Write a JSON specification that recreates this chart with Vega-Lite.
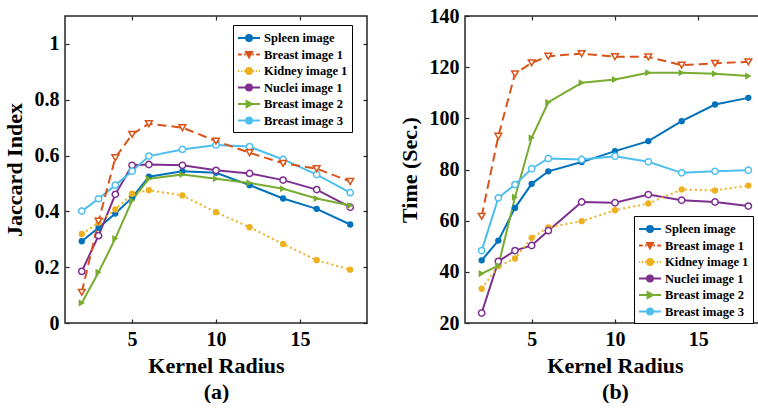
{
  "$schema": "https://vega.github.io/schema/vega-lite/v6.json",
  "padding": {"left": 2, "top": 5, "right": 0, "bottom": 0},
  "spacing": 28,
  "config": {
    "font": "Liberation Serif",
    "view": {"stroke": "#262626", "strokeWidth": 1.5},
    "axis": {
      "labelFont": "Liberation Serif", "labelFontWeight": "bold", "labelFontSize": 20, "labelColor": "#000",
      "titleFont": "Liberation Serif", "titleFontWeight": "bold", "titleFontSize": 22, "titleColor": "#000",
      "domain": false, "grid": false, "tickColor": "#262626", "tickWidth": 1.2, "tickSize": -4, "labelPadding": 10
    },
    "legend": {
      "labelFont": "Liberation Serif", "labelFontWeight": "bold", "labelFontSize": 12.5, "labelColor": "#000",
      "strokeColor": "#000", "fillColor": "white", "padding": 4, "rowPadding": 0.5, "symbolStrokeWidth": 2,
      "symbolSize": 256, "symbolOffset": 3, "labelOffset": 6
    }
  },
  "datasets": {
    "jaccard": [
      {"series": "Spleen image", "r": 2, "v": 0.293}, {"series": "Spleen image", "r": 3, "v": 0.341}, {"series": "Spleen image", "r": 4, "v": 0.392}, {"series": "Spleen image", "r": 5, "v": 0.449}, {"series": "Spleen image", "r": 6, "v": 0.524}, {"series": "Spleen image", "r": 8, "v": 0.544}, {"series": "Spleen image", "r": 10, "v": 0.538}, {"series": "Spleen image", "r": 12, "v": 0.494}, {"series": "Spleen image", "r": 14, "v": 0.446}, {"series": "Spleen image", "r": 16, "v": 0.409}, {"series": "Spleen image", "r": 18, "v": 0.353},
      {"series": "Breast image 1", "r": 2, "v": 0.11}, {"series": "Breast image 1", "r": 3, "v": 0.365}, {"series": "Breast image 1", "r": 4, "v": 0.592}, {"series": "Breast image 1", "r": 5, "v": 0.676}, {"series": "Breast image 1", "r": 6, "v": 0.714}, {"series": "Breast image 1", "r": 8, "v": 0.7}, {"series": "Breast image 1", "r": 10, "v": 0.652}, {"series": "Breast image 1", "r": 12, "v": 0.61}, {"series": "Breast image 1", "r": 14, "v": 0.572}, {"series": "Breast image 1", "r": 16, "v": 0.553}, {"series": "Breast image 1", "r": 18, "v": 0.507},
      {"series": "Kidney image 1", "r": 2, "v": 0.319}, {"series": "Kidney image 1", "r": 3, "v": 0.359}, {"series": "Kidney image 1", "r": 4, "v": 0.407}, {"series": "Kidney image 1", "r": 5, "v": 0.463}, {"series": "Kidney image 1", "r": 6, "v": 0.476}, {"series": "Kidney image 1", "r": 8, "v": 0.457}, {"series": "Kidney image 1", "r": 10, "v": 0.397}, {"series": "Kidney image 1", "r": 12, "v": 0.343}, {"series": "Kidney image 1", "r": 14, "v": 0.283}, {"series": "Kidney image 1", "r": 16, "v": 0.225}, {"series": "Kidney image 1", "r": 18, "v": 0.191},
      {"series": "Nuclei image 1", "r": 2, "v": 0.185}, {"series": "Nuclei image 1", "r": 3, "v": 0.313}, {"series": "Nuclei image 1", "r": 4, "v": 0.461}, {"series": "Nuclei image 1", "r": 5, "v": 0.565}, {"series": "Nuclei image 1", "r": 6, "v": 0.568}, {"series": "Nuclei image 1", "r": 8, "v": 0.565}, {"series": "Nuclei image 1", "r": 10, "v": 0.547}, {"series": "Nuclei image 1", "r": 12, "v": 0.536}, {"series": "Nuclei image 1", "r": 14, "v": 0.512}, {"series": "Nuclei image 1", "r": 16, "v": 0.478}, {"series": "Nuclei image 1", "r": 18, "v": 0.415},
      {"series": "Breast image 2", "r": 2, "v": 0.072}, {"series": "Breast image 2", "r": 3, "v": 0.182}, {"series": "Breast image 2", "r": 4, "v": 0.303}, {"series": "Breast image 2", "r": 5, "v": 0.439}, {"series": "Breast image 2", "r": 6, "v": 0.517}, {"series": "Breast image 2", "r": 8, "v": 0.532}, {"series": "Breast image 2", "r": 10, "v": 0.517}, {"series": "Breast image 2", "r": 12, "v": 0.502}, {"series": "Breast image 2", "r": 14, "v": 0.481}, {"series": "Breast image 2", "r": 16, "v": 0.446}, {"series": "Breast image 2", "r": 18, "v": 0.421},
      {"series": "Breast image 3", "r": 2, "v": 0.401}, {"series": "Breast image 3", "r": 3, "v": 0.445}, {"series": "Breast image 3", "r": 4, "v": 0.494}, {"series": "Breast image 3", "r": 5, "v": 0.544}, {"series": "Breast image 3", "r": 6, "v": 0.598}, {"series": "Breast image 3", "r": 8, "v": 0.622}, {"series": "Breast image 3", "r": 10, "v": 0.638}, {"series": "Breast image 3", "r": 12, "v": 0.632}, {"series": "Breast image 3", "r": 14, "v": 0.586}, {"series": "Breast image 3", "r": 16, "v": 0.532}, {"series": "Breast image 3", "r": 18, "v": 0.467}
    ],
    "time": [
      {"series": "Spleen image", "r": 2, "v": 44.5}, {"series": "Spleen image", "r": 3, "v": 52.2}, {"series": "Spleen image", "r": 4, "v": 65.0}, {"series": "Spleen image", "r": 5, "v": 74.4}, {"series": "Spleen image", "r": 6, "v": 79.3}, {"series": "Spleen image", "r": 8, "v": 82.9}, {"series": "Spleen image", "r": 10, "v": 87.2}, {"series": "Spleen image", "r": 12, "v": 91.1}, {"series": "Spleen image", "r": 14, "v": 98.9}, {"series": "Spleen image", "r": 16, "v": 105.4}, {"series": "Spleen image", "r": 18, "v": 108.0},
      {"series": "Breast image 1", "r": 2, "v": 61.7}, {"series": "Breast image 1", "r": 3, "v": 93.0}, {"series": "Breast image 1", "r": 4, "v": 117.4}, {"series": "Breast image 1", "r": 5, "v": 121.7}, {"series": "Breast image 1", "r": 6, "v": 124.3}, {"series": "Breast image 1", "r": 8, "v": 125.3}, {"series": "Breast image 1", "r": 10, "v": 124.1}, {"series": "Breast image 1", "r": 12, "v": 124.0}, {"series": "Breast image 1", "r": 14, "v": 120.8}, {"series": "Breast image 1", "r": 16, "v": 121.5}, {"series": "Breast image 1", "r": 18, "v": 122.1},
      {"series": "Kidney image 1", "r": 2, "v": 33.4}, {"series": "Kidney image 1", "r": 3, "v": 42.2}, {"series": "Kidney image 1", "r": 4, "v": 45.2}, {"series": "Kidney image 1", "r": 5, "v": 53.3}, {"series": "Kidney image 1", "r": 6, "v": 57.4}, {"series": "Kidney image 1", "r": 8, "v": 59.8}, {"series": "Kidney image 1", "r": 10, "v": 64.1}, {"series": "Kidney image 1", "r": 12, "v": 66.7}, {"series": "Kidney image 1", "r": 14, "v": 72.2}, {"series": "Kidney image 1", "r": 16, "v": 71.8}, {"series": "Kidney image 1", "r": 18, "v": 73.7},
      {"series": "Nuclei image 1", "r": 2, "v": 23.9}, {"series": "Nuclei image 1", "r": 3, "v": 44.1}, {"series": "Nuclei image 1", "r": 4, "v": 48.3}, {"series": "Nuclei image 1", "r": 5, "v": 50.3}, {"series": "Nuclei image 1", "r": 6, "v": 56.1}, {"series": "Nuclei image 1", "r": 8, "v": 67.3}, {"series": "Nuclei image 1", "r": 10, "v": 67.0}, {"series": "Nuclei image 1", "r": 12, "v": 70.2}, {"series": "Nuclei image 1", "r": 14, "v": 68.0}, {"series": "Nuclei image 1", "r": 16, "v": 67.3}, {"series": "Nuclei image 1", "r": 18, "v": 65.7},
      {"series": "Breast image 2", "r": 2, "v": 39.3}, {"series": "Breast image 2", "r": 3, "v": 42.4}, {"series": "Breast image 2", "r": 4, "v": 69.2}, {"series": "Breast image 2", "r": 5, "v": 92.4}, {"series": "Breast image 2", "r": 6, "v": 106.3}, {"series": "Breast image 2", "r": 8, "v": 113.9}, {"series": "Breast image 2", "r": 10, "v": 115.2}, {"series": "Breast image 2", "r": 12, "v": 117.8}, {"series": "Breast image 2", "r": 14, "v": 117.8}, {"series": "Breast image 2", "r": 16, "v": 117.4}, {"series": "Breast image 2", "r": 18, "v": 116.5},
      {"series": "Breast image 3", "r": 2, "v": 48.3}, {"series": "Breast image 3", "r": 3, "v": 68.9}, {"series": "Breast image 3", "r": 4, "v": 74.1}, {"series": "Breast image 3", "r": 5, "v": 80.3}, {"series": "Breast image 3", "r": 6, "v": 84.3}, {"series": "Breast image 3", "r": 8, "v": 83.9}, {"series": "Breast image 3", "r": 10, "v": 85.2}, {"series": "Breast image 3", "r": 12, "v": 83.0}, {"series": "Breast image 3", "r": 14, "v": 78.7}, {"series": "Breast image 3", "r": 16, "v": 79.3}, {"series": "Breast image 3", "r": 18, "v": 79.7}
    ]
  },
  "resolve": {"scale": {"color": "independent"}, "legend": {"color": "independent"}},
  "hconcat": [
    {
      "width": 302, "height": 307,
      "data": {"name": "jaccard"},
      "layer": [
        {
          "transform": [{"filter": {"field": "series", "oneOf": ["Spleen image", "Nuclei image 1", "Breast image 2", "Breast image 3"]}}],
          "mark": {"type": "line", "strokeWidth": 2},
          "encoding": {
            "x": {"field": "r", "type": "quantitative", "scale": {"domain": [1, 19], "nice": false}, "axis": {"values": [5, 10, 15], "title": ["Kernel Radius", "(a)"], "titleLineHeight": 26, "titlePadding": 6}},
            "y": {"field": "v", "type": "quantitative", "scale": {"domain": [0, 1.1], "nice": false}, "axis": {"values": [0, 0.2, 0.4, 0.6, 0.8, 1], "format": "~g", "title": "Jaccard Index", "titlePadding": 8}},
            "color": {"field": "series", "type": "nominal", "sort": null,
              "scale": {"domain": ["Spleen image", "Breast image 1", "Kidney image 1", "Nuclei image 1", "Breast image 2", "Breast image 3"], "range": ["#0072BD", "#D95319", "#EDB120", "#7E2F8E", "#77AC30", "#4DBEEE"]},
              "legend": {"title": null, "orient": "none", "legendX": 168, "legendY": 9,
                "encode": {"symbols": {"update": {
                  "shape": {"signal": "datum.value === 'Breast image 1' ? 'M-1.375,0H-0.9M-0.62,0H-0.41M0.41,0H0.62M0.9,0H1.375M-0.37,-0.3L0.37,-0.3L0,0.34Z' : datum.value === 'Kidney image 1' ? 'M-1.375,0H-1.21M-0.99,0H-0.83M-0.61,0H-0.45M0.45,0H0.61M0.83,0H0.99M1.21,0H1.375M-0.37,0A0.37,0.37 0 1,0 0.37,0A0.37,0.37 0 1,0 -0.37,0Z' : datum.value === 'Breast image 2' ? 'M-1.375,0H-0.3M0.37,0H1.375M-0.3,-0.37L0.37,0L-0.3,0.37Z' : 'M-1.375,0H-0.37M0.37,0H1.375M-0.37,0A0.37,0.37 0 1,0 0.37,0A0.37,0.37 0 1,0 -0.37,0Z'"},
                  "fill": {"signal": "datum.value === 'Spleen image' ? '#0072BD' : datum.value === 'Kidney image 1' ? '#EDB120' : datum.value === 'Breast image 2' ? '#77AC30' : 'white'"}
                }}}
              }
            }
          }
        },
        {
          "transform": [{"filter": {"field": "series", "equal": "Breast image 1"}}],
          "mark": {"type": "line", "strokeWidth": 2, "strokeDash": [9, 5]},
          "encoding": {
            "x": {"field": "r", "type": "quantitative", "axis": {"orient": "top", "values": [5, 10, 15], "labels": false, "title": null}},
            "y": {"field": "v", "type": "quantitative", "axis": {"orient": "right", "values": [0, 0.2, 0.4, 0.6, 0.8, 1], "labels": false, "title": null}},
            "color": {"field": "series", "type": "nominal", "legend": null}
          }
        },
        {
          "transform": [{"filter": {"field": "series", "equal": "Kidney image 1"}}],
          "mark": {"type": "line", "strokeWidth": 2, "strokeDash": [2, 3]},
          "encoding": {
            "x": {"field": "r", "type": "quantitative", "axis": null},
            "y": {"field": "v", "type": "quantitative", "axis": null},
            "color": {"field": "series", "type": "nominal", "legend": null}
          }
        },
        {
          "transform": [{"filter": {"field": "series", "oneOf": ["Spleen image", "Kidney image 1"]}}],
          "mark": {"type": "point", "shape": "circle", "filled": true, "size": 40, "opacity": 1},
          "encoding": {
            "x": {"field": "r", "type": "quantitative", "axis": null},
            "y": {"field": "v", "type": "quantitative", "axis": null},
            "color": {"field": "series", "type": "nominal", "legend": null}
          }
        },
        {
          "transform": [{"filter": {"field": "series", "oneOf": ["Nuclei image 1", "Breast image 3"]}}],
          "mark": {"type": "point", "shape": "circle", "filled": false, "fill": "white", "size": 40, "strokeWidth": 1.5, "opacity": 1},
          "encoding": {
            "x": {"field": "r", "type": "quantitative", "axis": null},
            "y": {"field": "v", "type": "quantitative", "axis": null},
            "color": {"field": "series", "type": "nominal", "legend": null}
          }
        },
        {
          "transform": [{"filter": {"field": "series", "equal": "Breast image 1"}}],
          "mark": {"type": "point", "shape": "triangle-down", "filled": false, "fill": "white", "size": 45, "strokeWidth": 1.5, "opacity": 1},
          "encoding": {
            "x": {"field": "r", "type": "quantitative", "axis": null},
            "y": {"field": "v", "type": "quantitative", "axis": null},
            "color": {"field": "series", "type": "nominal", "legend": null}
          }
        },
        {
          "transform": [{"filter": {"field": "series", "equal": "Breast image 2"}}],
          "mark": {"type": "point", "shape": "triangle-right", "filled": true, "size": 50, "opacity": 1},
          "encoding": {
            "x": {"field": "r", "type": "quantitative", "axis": null},
            "y": {"field": "v", "type": "quantitative", "axis": null},
            "color": {"field": "series", "type": "nominal", "legend": null}
          }
        }
      ],
      "resolve": {"axis": {"x": "independent", "y": "independent"}}
    },
    {
      "width": 300, "height": 307,
      "data": {"name": "time"},
      "layer": [
        {
          "transform": [{"filter": {"field": "series", "oneOf": ["Spleen image", "Nuclei image 1", "Breast image 2", "Breast image 3"]}}],
          "mark": {"type": "line", "strokeWidth": 2},
          "encoding": {
            "x": {"field": "r", "type": "quantitative", "scale": {"domain": [1, 19], "nice": false}, "axis": {"values": [5, 10, 15], "title": ["Kernel Radius", "(b)"], "titleLineHeight": 26, "titlePadding": 6}},
            "y": {"field": "v", "type": "quantitative", "scale": {"domain": [20, 140], "nice": false}, "axis": {"values": [20, 40, 60, 80, 100, 120, 140], "title": "Time (Sec.)", "titlePadding": 8}},
            "color": {"field": "series", "type": "nominal", "sort": null,
              "scale": {"domain": ["Spleen image", "Breast image 1", "Kidney image 1", "Nuclei image 1", "Breast image 2", "Breast image 3"], "range": ["#0072BD", "#D95319", "#EDB120", "#7E2F8E", "#77AC30", "#4DBEEE"]},
              "legend": {"title": null, "orient": "none", "legendX": 169, "legendY": 200,
                "encode": {"symbols": {"update": {
                  "shape": {"signal": "datum.value === 'Breast image 1' ? 'M-1.375,0H-0.9M-0.62,0H-0.41M0.41,0H0.62M0.9,0H1.375M-0.37,-0.3L0.37,-0.3L0,0.34Z' : datum.value === 'Kidney image 1' ? 'M-1.375,0H-1.21M-0.99,0H-0.83M-0.61,0H-0.45M0.45,0H0.61M0.83,0H0.99M1.21,0H1.375M-0.37,0A0.37,0.37 0 1,0 0.37,0A0.37,0.37 0 1,0 -0.37,0Z' : datum.value === 'Breast image 2' ? 'M-1.375,0H-0.3M0.37,0H1.375M-0.3,-0.37L0.37,0L-0.3,0.37Z' : 'M-1.375,0H-0.37M0.37,0H1.375M-0.37,0A0.37,0.37 0 1,0 0.37,0A0.37,0.37 0 1,0 -0.37,0Z'"},
                  "fill": {"signal": "datum.value === 'Spleen image' ? '#0072BD' : datum.value === 'Kidney image 1' ? '#EDB120' : datum.value === 'Breast image 2' ? '#77AC30' : 'white'"}
                }}}
              }
            }
          }
        },
        {
          "transform": [{"filter": {"field": "series", "equal": "Breast image 1"}}],
          "mark": {"type": "line", "strokeWidth": 2, "strokeDash": [9, 5]},
          "encoding": {
            "x": {"field": "r", "type": "quantitative", "axis": {"orient": "top", "values": [5, 10, 15], "labels": false, "title": null}},
            "y": {"field": "v", "type": "quantitative", "axis": {"orient": "right", "values": [20, 40, 60, 80, 100, 120, 140], "labels": false, "title": null}},
            "color": {"field": "series", "type": "nominal", "legend": null}
          }
        },
        {
          "transform": [{"filter": {"field": "series", "equal": "Kidney image 1"}}],
          "mark": {"type": "line", "strokeWidth": 2, "strokeDash": [2, 3]},
          "encoding": {
            "x": {"field": "r", "type": "quantitative", "axis": null},
            "y": {"field": "v", "type": "quantitative", "axis": null},
            "color": {"field": "series", "type": "nominal", "legend": null}
          }
        },
        {
          "transform": [{"filter": {"field": "series", "oneOf": ["Spleen image", "Kidney image 1"]}}],
          "mark": {"type": "point", "shape": "circle", "filled": true, "size": 40, "opacity": 1},
          "encoding": {
            "x": {"field": "r", "type": "quantitative", "axis": null},
            "y": {"field": "v", "type": "quantitative", "axis": null},
            "color": {"field": "series", "type": "nominal", "legend": null}
          }
        },
        {
          "transform": [{"filter": {"field": "series", "oneOf": ["Nuclei image 1", "Breast image 3"]}}],
          "mark": {"type": "point", "shape": "circle", "filled": false, "fill": "white", "size": 40, "strokeWidth": 1.5, "opacity": 1},
          "encoding": {
            "x": {"field": "r", "type": "quantitative", "axis": null},
            "y": {"field": "v", "type": "quantitative", "axis": null},
            "color": {"field": "series", "type": "nominal", "legend": null}
          }
        },
        {
          "transform": [{"filter": {"field": "series", "equal": "Breast image 1"}}],
          "mark": {"type": "point", "shape": "triangle-down", "filled": false, "fill": "white", "size": 45, "strokeWidth": 1.5, "opacity": 1},
          "encoding": {
            "x": {"field": "r", "type": "quantitative", "axis": null},
            "y": {"field": "v", "type": "quantitative", "axis": null},
            "color": {"field": "series", "type": "nominal", "legend": null}
          }
        },
        {
          "transform": [{"filter": {"field": "series", "equal": "Breast image 2"}}],
          "mark": {"type": "point", "shape": "triangle-right", "filled": true, "size": 50, "opacity": 1},
          "encoding": {
            "x": {"field": "r", "type": "quantitative", "axis": null},
            "y": {"field": "v", "type": "quantitative", "axis": null},
            "color": {"field": "series", "type": "nominal", "legend": null}
          }
        }
      ],
      "resolve": {"axis": {"x": "independent", "y": "independent"}}
    }
  ]
}
